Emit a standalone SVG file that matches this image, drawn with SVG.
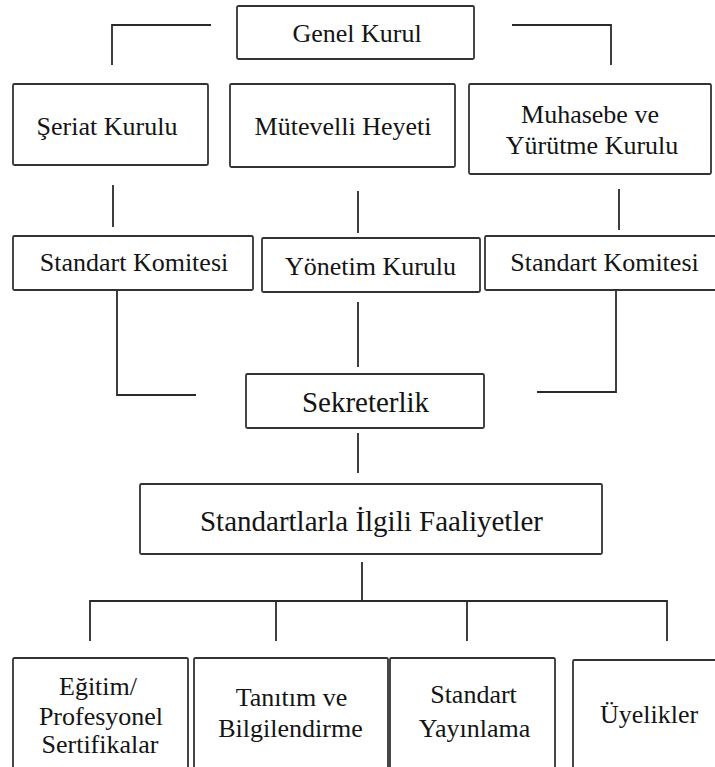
<svg xmlns="http://www.w3.org/2000/svg" width="715" height="767" viewBox="0 0 715 767">
<style>
.box{fill:#ffffff;stroke:#333333;stroke-width:1.8}
.con{fill:none;stroke:#2a2a2a;stroke-width:1.8}
.t{font-family:'Liberation Serif','DejaVu Serif',serif;font-size:26px;fill:#141414;text-anchor:middle}
.big{font-size:29px}
</style>
<rect width="715" height="767" fill="#ffffff"/>
<g id="connectors">
<path class="con" d="M211,25 H112 V65"/>
<path class="con" d="M512,25 H611 V65"/>
<path class="con" d="M113,185 V227"/>
<path class="con" d="M358,191 V233"/>
<path class="con" d="M619,189 V230"/>
<path class="con" d="M117,290 V395 H196"/>
<path class="con" d="M358,302 V367"/>
<path class="con" d="M616,290 V392 H537"/>
<path class="con" d="M358,433 V473"/>
<path class="con" d="M362,562 V601"/>
<path class="con" d="M90,641 V601 H667 V641"/>
<path class="con" d="M276,601 V641"/>
<path class="con" d="M467,601 V641"/>
</g>
<g font-family="Liberation Serif, DejaVu Serif, serif">
<g id="genel-kurul">
<rect class="box" x="237" y="6" width="237" height="53" rx="1.5"/>
<text class="t" x="357" y="42">Genel Kurul</text>
</g>
<g id="seriat-kurulu">
<rect class="box" x="13" y="84" width="195" height="81" rx="1.5"/>
<text class="t" x="107" y="135">Şeriat Kurulu</text>
</g>
<g id="mutevelli-heyeti">
<rect class="box" x="230" y="84" width="225" height="83" rx="1.5"/>
<text class="t" x="343" y="135">Mütevelli Heyeti</text>
</g>
<g id="muhasebe">
<rect class="box" x="469" y="84" width="242" height="90" rx="1.5"/>
<text class="t" x="590" y="123">Muhasebe ve</text>
<text class="t" x="592" y="154">Yürütme Kurulu</text>
</g>
<g id="standart-komitesi-1">
<rect class="box" x="13" y="236" width="240" height="54" rx="1.5"/>
<text class="t" x="134" y="271">Standart Komitesi</text>
</g>
<g id="yonetim-kurulu">
<rect class="box" x="262" y="238" width="218" height="54" rx="1.5"/>
<text class="t" x="370.5" y="275">Yönetim Kurulu</text>
</g>
<g id="standart-komitesi-2">
<rect class="box" x="485" y="236" width="240" height="54" rx="1.5"/>
<text class="t" x="604.5" y="271">Standart Komitesi</text>
</g>
<g id="sekreterlik">
<rect class="box" x="246" y="374" width="238" height="54" rx="1.5"/>
<text class="t big" x="365.5" y="412">Sekreterlik</text>
</g>
<g id="faaliyetler">
<rect class="box" x="140" y="484" width="462" height="70" rx="1.5"/>
<text class="t big" x="371.5" y="531">Standartlarla İlgili Faaliyetler</text>
</g>
<g id="egitim">
<rect class="box" x="13" y="658" width="175" height="125" rx="1.5"/>
<text class="t" x="98" y="695">Eğitim/</text>
<text class="t" x="101" y="725">Profesyonel</text>
<text class="t" x="100" y="753">Sertifikalar</text>
</g>
<g id="tanitim">
<rect class="box" x="194" y="658" width="194" height="125" rx="1.5"/>
<text class="t" x="291.5" y="706">Tanıtım ve</text>
<text class="t" x="290.5" y="737">Bilgilendirme</text>
</g>
<g id="yayinlama">
<rect class="box" x="390" y="658" width="165" height="125" rx="1.5"/>
<text class="t" x="473.5" y="703">Standart</text>
<text class="t" x="474.5" y="737">Yayınlama</text>
</g>
<g id="uyelikler">
<rect class="box" x="573" y="660" width="152" height="125" rx="1.5"/>
<text class="t" x="649" y="723">Üyelikler</text>
</g>
</g>
</svg>
